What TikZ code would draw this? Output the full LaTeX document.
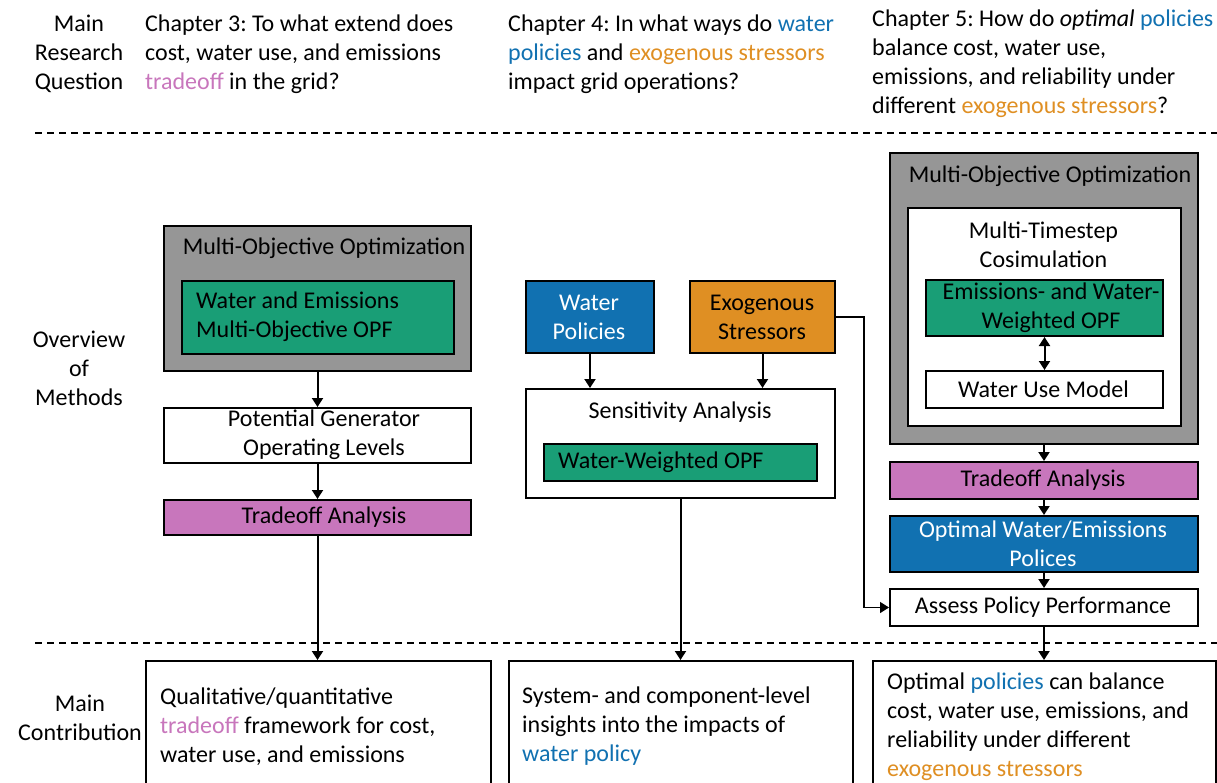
\documentclass[tikz,border=0pt]{standalone}
\usepackage{fontspec}
\setmainfont{Carlito}
\usepackage{tikz}
\usetikzlibrary{arrows.meta,positioning}
\definecolor{tradepink}{HTML}{C876BC}
\definecolor{policyblue}{HTML}{1171B1}
\definecolor{stressorange}{HTML}{DF8F23}
\definecolor{opfgreen}{HTML}{199E76}
\definecolor{moogrey}{HTML}{969696}
\newcommand{\bodyfont}{\fontsize{24}{29}\selectfont\frenchspacing}
\tikzset{
    %Define standard arrow tip
    >={Triangle[length=9pt,width=11pt]},
    %Define style for boxes
    plainbox/.style={
           rectangle,
           draw=black, line width=2pt,
           fill=white,
           inner sep=0pt,
           anchor=north west},
    moobox/.style={plainbox, fill=moogrey},
    opfbox/.style={plainbox, fill=opfgreen},
    tradebox/.style={plainbox, fill=tradepink},
    policybox/.style={plainbox, fill=policyblue},
    stressbox/.style={plainbox, fill=stressorange},
    %Define style for texts
    boxtext/.style={
           font=\bodyfont,
           inner sep=0pt,
           align=center},
    lefttext/.style={
           font=\bodyfont,
           inner sep=0pt,
           align=left,
           anchor=west},
    % Define arrow style
    pil/.style={
           ->,
           line width=2pt},
    sep/.style={
           line width=1.3pt,
           dash pattern=on 7pt off 5pt}
}
\begin{document}
\begin{tikzpicture}[x=1pt,y=-1pt]
\clip (0,0) rectangle (1217,783);
 %row titles
\node[boxtext](rq) at (79,54) {Main\\Research\\Question};
\node[boxtext](om) at (79,368) {Overview\\of\\Methods};
\node[boxtext](mc) at (80,717.5) {Main\\Contribution};
 %questions
\node[lefttext](q3) at (145,54) {Chapter 3: To what extend does\\cost, water use, and emissions\\\textcolor{tradepink}{tradeoff} in the grid?};
\node[lefttext](q4) at (508,54) {Chapter 4: In what ways do \textcolor{policyblue}{water}\\\textcolor{policyblue}{policies} and \textcolor{stressorange}{exogenous stressors}\\impact grid operations?};
\node[lefttext](q5) at (872,63.5) {Chapter 5: How do \textit{optimal} \textcolor{policyblue}{policies}\\balance cost, water use,\\emissions, and reliability under\\different \textcolor{stressorange}{exogenous stressors}?};
\coordinate (sepa) at (35,133);
\coordinate (sepb) at (35,643);
\draw[sep] (sepa) -- (sepa -| 1217,0);
\draw[sep] (sepb) -- (sepb -| 1217,0);
 %chapter 3
\node[moobox, minimum width=307, minimum height=145](moo1) at (163,225) {};
\node[boxtext](moo1t) at (324,248) {Multi-Objective Optimization};
\node[opfbox, minimum width=272, minimum height=73](opf1) at (181,280) {};
\node[lefttext](opf1t) at (196,316.5) {Water and Emissions\\Multi-Objective OPF};
\node[plainbox, minimum width=307, minimum height=55](gen) at (163,407) {};
\node[boxtext](gent) at (324,434.5) {Potential Generator\\Operating Levels};
\node[tradebox, minimum width=307, minimum height=35](trade1) at (163,499) {};
\node[boxtext](trade1t) at (324,517) {Tradeoff Analysis};
\node[plainbox, minimum width=345, minimum height=200](res1) at (145,660) {};
\node[lefttext](res1t) at (160,726.5) {Qualitative/quantitative\\\textcolor{tradepink}{tradeoff} framework for cost,\\water use, and emissions};
 %chapter 4
\node[policybox, minimum width=128, minimum height=72](pol) at (525,280) {};
\node[boxtext, text=white](polt) at (589,317) {Water\\Policies};
\node[stressbox, minimum width=145, minimum height=72](str) at (689,280) {};
\node[boxtext](strt) at (762,317) {Exogenous\\Stressors};
\node[plainbox, minimum width=309, minimum height=109](sens) at (525,388) {};
\node[boxtext](senst) at (680,412) {Sensitivity Analysis};
\node[opfbox, minimum width=273, minimum height=37](opf2) at (543,443) {};
\node[lefttext](opf2t) at (558,462) {Water-Weighted OPF};
\node[plainbox, minimum width=344, minimum height=200](res2) at (508,660) {};
\node[lefttext](res2t) at (522,726.5) {System- and component-level\\insights into the impacts of\\\textcolor{policyblue}{water policy}};
 %chapter 5
\node[moobox, minimum width=308, minimum height=291](moo3) at (889,152) {};
\node[boxtext](moo3t) at (1050,176) {Multi-Objective Optimization};
\node[plainbox, minimum width=273, minimum height=218](cosim) at (907,207) {};
\node[boxtext](cosimt) at (1043.5,244.5) {Multi-Timestep\\Cosimulation};
\node[opfbox, minimum width=237, minimum height=56](opf3) at (925,279) {};
\node[boxtext](opf3t) at (1051,308) {Emissions- and Water-\\Weighted OPF};
\node[plainbox, minimum width=237, minimum height=37](wum) at (925,370) {};
\node[boxtext](wumt) at (1043.5,389) {Water Use Model};
\node[tradebox, minimum width=308, minimum height=37](trade3) at (889,461) {};
\node[boxtext](trade3t) at (1043,480) {Tradeoff Analysis};
\node[policybox, minimum width=308, minimum height=56](opt) at (889,515) {};
\node[boxtext, text=white](optt) at (1043,544) {Optimal Water/Emissions\\Polices};
\node[plainbox, minimum width=308, minimum height=37](ass) at (889,588) {};
\node[boxtext](asst) at (1043,607) {Assess Policy Performance};
\node[plainbox, minimum width=343, minimum height=200](res3) at (872,660) {};
\node[lefttext](res3t) at (887,726.5) {Optimal \textcolor{policyblue}{policies} can balance\\cost, water use, emissions, and\\reliability under different\\\textcolor{stressorange}{exogenous stressors}};
 %connectors
\draw[pil] (moo1.south) -- (gen.north);
\draw[pil] (gen.south) -- (trade1.north);
\draw[pil] (trade1.south) -- (trade1.south |- res1.north);
\draw[pil] (pol.south) -- (pol.south |- sens.north);
\draw[pil] (str.south) -- (str.south |- sens.north);
\draw[pil] (sens.south) -- (sens.south |- res2.north);
\draw[pil, line width=1.5pt] (str.east) -- ++(28,0) |- (ass.west);
\draw[pil, <->] (opf3.south) -- (wum.north);
\draw[pil] (moo3.south) -- (trade3.north);
\draw[pil] (trade3.south) -- (opt.north);
\draw[pil] (opt.south) -- (ass.north);
\draw[pil] (ass.south) -- (ass.south |- res3.north);
\end{tikzpicture}
\end{document}
